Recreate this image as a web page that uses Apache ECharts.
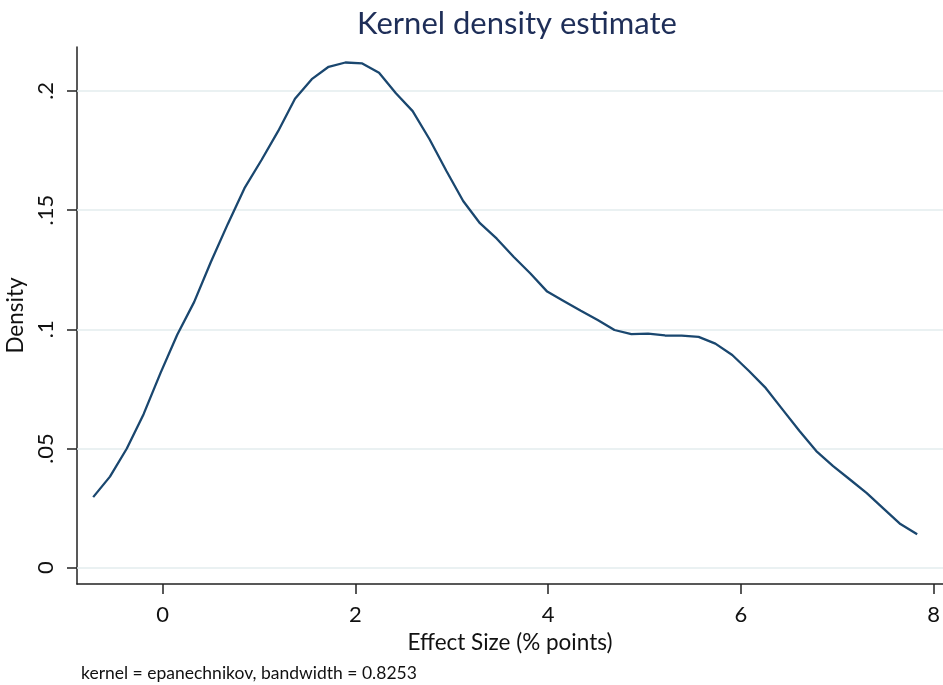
<!DOCTYPE html>
<html>
<head>
<meta charset="utf-8">
<script src="https://cdn.jsdelivr.net/npm/echarts@6/dist/echarts.min.js"></script>
<style>
html,body{margin:0;padding:0;background:#fff;}
#chart{width:943px;height:685px;}
</style>
</head>
<body>
<div id="chart"></div>
<script>
// Evaluation points (Effect Size, % points)
const effectSize = [
  -0.720, -0.546, -0.371, -0.197, -0.022, 0.152, 0.327, 0.501, 0.676, 0.850,
  1.025, 1.199, 1.374, 1.548, 1.723, 1.897, 2.072, 2.246, 2.421, 2.595,
  2.770, 2.944, 3.119, 3.293, 3.468, 3.642, 3.817, 3.991, 4.166, 4.340,
  4.515, 4.689, 4.864, 5.038, 5.213, 5.387, 5.562, 5.736, 5.911, 6.085,
  6.260, 6.434, 6.609, 6.783, 6.958, 7.132, 7.307, 7.481, 7.656, 7.830
];
// Estimated density
const density = [
  0.0296, 0.0382, 0.0500, 0.0644, 0.0816, 0.0977, 0.1114, 0.1282, 0.1441, 0.1592,
  0.1709, 0.1831, 0.1967, 0.2049, 0.2101, 0.2119, 0.2115, 0.2076, 0.1990, 0.1915,
  0.1797, 0.1665, 0.1538, 0.1445, 0.1380, 0.1304, 0.1234, 0.1158, 0.1118, 0.1078,
  0.1039, 0.0997, 0.0980, 0.0982, 0.0974, 0.0973, 0.0968, 0.0940, 0.0892, 0.0825,
  0.0753, 0.0663, 0.0573, 0.0489, 0.0426, 0.0370, 0.0313, 0.0248, 0.0183, 0.0140
];
const xTicks = [0, 2, 4, 6, 8];
const xTickLabels = ['0', '2', '4', '6', '8'];
const yTicks = [0, 0.05, 0.1, 0.15, 0.2];
const yTickLabels = ['0', '.05', '.1', '.15', '.2'];
const titleText = 'Kernel density estimate';
const xTitle = 'Effect Size (% points)';
const yTitle = 'Density';
const noteText = 'kernel = epanechnikov, bandwidth = 0.8253';

const FONT = 'Lato, "Open Sans", sans-serif';
const chart = echarts.init(document.getElementById('chart'), null, {renderer: 'canvas'});

const points = effectSize.map((x, i) => [x, density[i]]);

function fmt(ticks, labels) {
  return function (v) {
    for (let i = 0; i < ticks.length; i++) {
      if (Math.abs(ticks[i] - v) < 1e-9) return labels[i];
    }
    return '';
  };
}

chart.setOption({
  backgroundColor: '#ffffff',
  animation: false,
  title: [
    {
      text: titleText,
      left: 512, top: 3, textAlign: 'center',
      textStyle: {fontFamily: FONT, fontSize: 31, fontWeight: 'normal', color: '#1e2e58'}
    },
    {
      text: noteText,
      left: 76, top: 659,
      textStyle: {fontFamily: FONT, fontSize: 17.5, fontWeight: 'normal', color: '#111'}
    }
  ],
  grid: {left: 77, right: 0, top: 47, bottom: 101, containLabel: false, outerBoundsMode: 'none'},
  xAxis: {
    type: 'value',
    min: -0.888, max: 8.098,
    name: xTitle,
    nameLocation: 'middle',
    nameGap: 39,
    nameTextStyle: {fontFamily: FONT, fontSize: 22.5, color: '#111'},
    axisLine: {show: true, onZero: false, lineStyle: {color: '#222', width: 1.5}},
    axisTick: {show: true, inside: false, length: 10, customValues: xTicks, lineStyle: {color: '#222', width: 1.5}},
    axisLabel: {customValues: xTicks, formatter: fmt(xTicks, xTickLabels), margin: 20,
      fontFamily: FONT, fontSize: 22, color: '#111'},
    splitLine: {show: false}
  },
  yAxis: {
    type: 'value',
    min: -0.00684, max: 0.2184,
    name: yTitle,
    nameLocation: 'middle',
    nameRotate: 90,
    nameGap: 42,
    nameTextStyle: {fontFamily: FONT, fontSize: 22.5, color: '#111'},
    axisLine: {show: true, onZero: false, lineStyle: {color: '#222', width: 1.5}},
    axisTick: {show: true, inside: false, length: 10, customValues: yTicks, lineStyle: {color: '#222', width: 1.5}},
    axisLabel: {customValues: yTicks, formatter: fmt(yTicks, yTickLabels), rotate: 90, margin: 20,
      fontFamily: FONT, fontSize: 22, color: '#111'},
    splitLine: {show: false}
  },
  series: [
    {
      type: 'line',
      data: [],
      z: 1,
      silent: true,
      markLine: {
        z: 1,
        silent: true,
        symbol: ['none', 'none'],
        label: {show: false},
        lineStyle: {color: '#e3ecee', width: 1.5, type: 'solid'},
        emphasis: {disabled: true},
        data: yTicks.map(v => ({yAxis: v}))
      }
    },
    {
      type: 'line',
      data: points,
      z: 10,
      symbol: 'none',
      smooth: false,
      lineStyle: {color: '#1a476f', width: 2.3}
    }
  ]
});
</script>
</body>
</html>
